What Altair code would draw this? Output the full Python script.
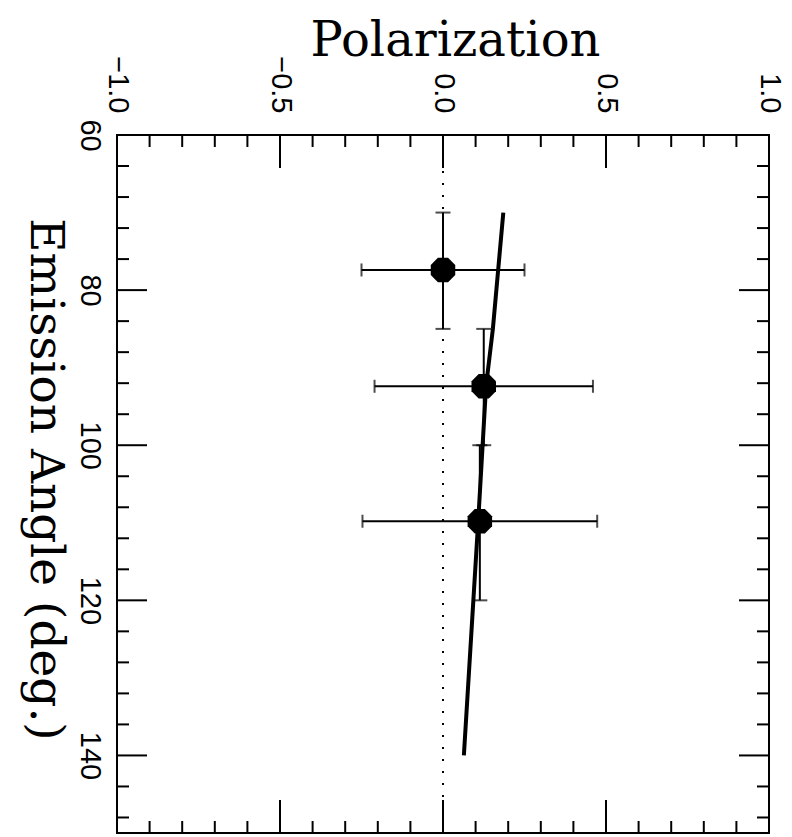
import altair as alt
import pandas as pd

# --- data ---
angle = [77.4, 92.4, 109.8]          # emission angle of each point (deg)
angle_lo = [70.0, 85.0, 100.0]       # angular bin lower edge
angle_hi = [85.0, 100.0, 120.0]      # angular bin upper edge
pol = [0.0, 0.125, 0.113]            # polarization
pol_err = [0.25, 0.335, 0.36]        # polarization error

line_angle = [70.0, 85.0, 92.4, 109.8, 140.0]
line_pol = [0.185, 0.153, 0.132, 0.108, 0.064]

pol_major = [-1.0, -0.5, 0.0, 0.5, 1.0]
pol_minor = [-0.9, -0.8, -0.7, -0.6, -0.4, -0.3, -0.2, -0.1,
             0.1, 0.2, 0.3, 0.4, 0.6, 0.7, 0.8, 0.9]
ang_major = [60, 80, 100, 120, 140]
ang_minor = [64, 68, 72, 76, 84, 88, 92, 96, 104, 108, 112, 116,
             124, 128, 132, 136, 144, 148]
zero_line = [0.0]

W, H = 652, 698

pts = pd.DataFrame({"angle": angle, "angle_lo": angle_lo, "angle_hi": angle_hi,
                    "pol": pol, "pol_err": pol_err})
pts["pol_lo"] = pts["pol"] - pts["pol_err"]
pts["pol_hi"] = pts["pol"] + pts["pol_err"]
fit = pd.DataFrame({"angle": line_angle, "pol": line_pol})

xscale = alt.Scale(domain=[-1, 1], nice=False, zero=False)
yscale = alt.Scale(domain=[60, 150], nice=False, zero=False, reverse=True)

xaxis = alt.Axis(orient="top", title="Polarization", values=pol_major, format=".1f",
                 labelAngle=90, labelAlign="right", labelBaseline="middle",
                 labelPadding=22, labelFlush=False, labelOverlap=False,
                 ticks=False, domain=False, grid=False,
                 labelFont="Liberation Sans", labelFontSize=29, labelColor="black",
                 titleFont="DejaVu Serif", titleFontSize=48, titleFontWeight="normal",
                 titleColor="black", titleX=338, titleY=-80, titleAlign="center",
                 titleBaseline="alphabetic")
yaxis = alt.Axis(orient="left", title="Emission Angle (deg.)", values=ang_major,
                 labelAngle=90, labelAlign="center", labelBaseline="top",
                 labelPadding=14, labelFlush=False, labelOverlap=False,
                 ticks=False, domain=False, grid=False,
                 labelFont="Liberation Sans", labelFontSize=29, labelColor="black",
                 titleFont="DejaVu Serif", titleFontSize=47, titleFontWeight="normal",
                 titleColor="black", titleAngle=90, titleX=-87, titleY=344,
                 titleAlign="center", titleBaseline="alphabetic")


def X(field):
    return alt.X(field, type="quantitative", scale=xscale, axis=xaxis)


def Y(field):
    return alt.Y(field, type="quantitative", scale=yscale, axis=yaxis)


base_pts = alt.Chart(pts)


def xticks(vals, length):
    d = alt.Chart(pd.DataFrame({"v": vals}))
    top = d.mark_rule(color="black", strokeWidth=2).encode(
        x=X("v"), y=alt.value(0), y2=alt.value(length))
    bot = d.mark_rule(color="black", strokeWidth=2).encode(
        x=X("v"), y=alt.value(H), y2=alt.value(H - length))
    return [top, bot]


def yticks(vals, length):
    d = alt.Chart(pd.DataFrame({"v": vals}))
    left = d.mark_rule(color="black", strokeWidth=2).encode(
        y=Y("v"), x=alt.value(0), x2=alt.value(length))
    right = d.mark_rule(color="black", strokeWidth=2).encode(
        y=Y("v"), x=alt.value(W), x2=alt.value(W - length))
    return [left, right]


ticks = (xticks(pol_major, 33) + xticks(pol_minor, 12) +
         yticks(ang_major, 30) + yticks(ang_minor, 12))

zero = alt.Chart(pd.DataFrame({"v": zero_line})).mark_rule(
    color="black", strokeWidth=2, strokeDash=[2, 10]).encode(
    x=X("v"), y=alt.value(0), y2=alt.value(H))

fit_line = alt.Chart(fit).mark_line(color="black", strokeWidth=4).encode(
    x=X("pol"), y=Y("angle"), order=alt.Order("angle:Q"))

hbar = base_pts.mark_rule(color="black", strokeWidth=2).encode(
    x=X("pol_lo"), x2="pol_hi", y=Y("angle"))
vbar = base_pts.mark_rule(color="black", strokeWidth=2).encode(
    y=Y("angle_lo"), y2="angle_hi", x=X("pol"))
hcap_lo = base_pts.mark_tick(color="black", orient="vertical", size=13, thickness=2).encode(
    x=X("pol_lo"), y=Y("angle"))
hcap_hi = base_pts.mark_tick(color="black", orient="vertical", size=13, thickness=2).encode(
    x=X("pol_hi"), y=Y("angle"))
vcap_lo = base_pts.mark_tick(color="black", orient="horizontal", size=15, thickness=2).encode(
    x=X("pol"), y=Y("angle_lo"))
vcap_hi = base_pts.mark_tick(color="black", orient="horizontal", size=15, thickness=2).encode(
    x=X("pol"), y=Y("angle_hi"))

octagon = "M-0.414,-1L0.414,-1L1,-0.414L1,0.414L0.414,1L-0.414,1L-1,0.414L-1,-0.414Z"
markers = base_pts.mark_point(shape=octagon, filled=True, color="black", size=600,
                              opacity=1).encode(x=X("pol"), y=Y("angle"))

chart = alt.layer(zero, *ticks, fit_line, hbar, vbar, hcap_lo, hcap_hi,
                  vcap_lo, vcap_hi, markers).properties(
    width=W, height=H,
    autosize=alt.AutoSizeParams(type="none"),
    padding={"left": 117, "top": 135, "right": 23, "bottom": 4},
    background="white",
).configure_view(stroke="black", strokeWidth=2)

chart.save("out.html", embed_options={"renderer": "svg", "actions": False})
